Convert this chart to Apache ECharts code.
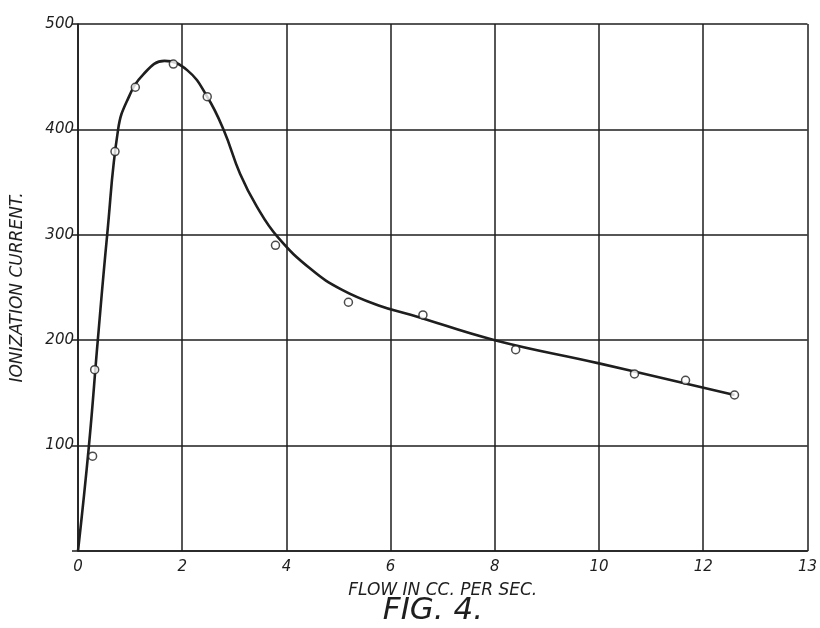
<!DOCTYPE html>
<html>
<head>
<meta charset="utf-8">
<script src="https://cdn.jsdelivr.net/npm/echarts@6/dist/echarts.min.js"></script>
<style>
html,body{margin:0;padding:0;background:#fff;}
#c{width:820px;height:628px;}
</style>
</head>
<body>
<div id="c"></div>
<script>
// Observed points (flow in cc per sec, ionization current)
var obsX = [0.28, 0.32, 0.71, 1.10, 1.83, 2.48, 3.79, 5.19, 6.62, 8.40, 10.68, 11.66, 12.60];
var obsY = [90, 172, 379, 440, 462, 431, 290, 236, 224, 191, 168, 162, 148];
// Hand-drawn smooth curve
var curveX = [0, 0.21, 0.38, 0.56, 0.77, 0.95, 1.25, 1.66, 2.10, 2.48, 2.80, 3.11, 3.43, 3.83, 4.48, 5.06, 5.77, 6.40, 8.00, 10.00, 12.60];
var curveY = [0, 100, 200, 300, 400, 428, 452, 465, 456, 431, 399, 358, 327, 298, 267, 248, 233, 224, 200, 178, 148];
// Tick labels
var xTickLabels = ['0', '2', '4', '6', '8', '10', '12', '13'];
var yTickLabels = ['', '100', '200', '300', '400', '500'];

var ink = '#1e1e1e';
var font = 'DejaVu Sans';

function pairs(xs, ys) { return xs.map(function (x, i) { return [x, ys[i]]; }); }

var chart = echarts.init(document.getElementById('c'), null, { renderer: 'canvas' });
chart.setOption({
  backgroundColor: '#ffffff',
  animation: false,
  title: {
    text: 'FIG. 4.',
    left: 428, top: 590, textAlign: 'center',
    textStyle: { color: ink, fontFamily: font, fontStyle: 'italic', fontWeight: 'normal', fontSize: 31 }
  },
  grid: { left: 78, right: 9, top: 24, bottom: 77, containLabel: false },
  xAxis: {
    type: 'value', min: 0, max: 14, interval: 2,
    name: 'FLOW IN CC. PER SEC.', nameLocation: 'middle', nameGap: 31,
    nameTextStyle: { color: ink, fontFamily: font, fontStyle: 'italic', fontSize: 17 },
    axisLine: { show: true, onZero: false, lineStyle: { color: ink, width: 1.6 } },
    axisTick: { show: false },
    axisLabel: {
      color: ink, fontFamily: font, fontStyle: 'italic', fontSize: 15, margin: 9,
      formatter: function (v) { return xTickLabels[Math.round(v / 2)]; }
    },
    splitLine: { show: true, lineStyle: { color: ink, width: 1.5 } }
  },
  yAxis: {
    type: 'value', min: 0, max: 500, interval: 100,
    name: 'IONIZATION CURRENT.', nameLocation: 'middle', nameGap: 52, nameRotate: 90,
    nameTextStyle: { color: ink, fontFamily: font, fontStyle: 'italic', fontSize: 17 },
    axisLine: { show: true, lineStyle: { color: ink, width: 1.6 } },
    axisTick: { show: true, length: 6, lineStyle: { color: ink, width: 1.5 } },
    axisLabel: {
      color: ink, fontFamily: font, fontStyle: 'italic', fontSize: 15, margin: 4,
      formatter: function (v) { return yTickLabels[Math.round(v / 100)]; }
    },
    splitLine: { show: true, lineStyle: { color: ink, width: 1.5 } }
  },
  series: [
    {
      type: 'line', name: 'curve', data: pairs(curveX, curveY),
      smooth: 0.45, showSymbol: false, symbol: 'none',
      lineStyle: { color: ink, width: 2.6 }, z: 2
    },
    {
      type: 'scatter', name: 'observed', data: pairs(obsX, obsY),
      symbol: 'circle', symbolSize: 8,
      itemStyle: { color: '#ffffff', borderColor: ink, borderWidth: 1.5 }, z: 3
    }
  ]
});
</script>
</body>
</html>
